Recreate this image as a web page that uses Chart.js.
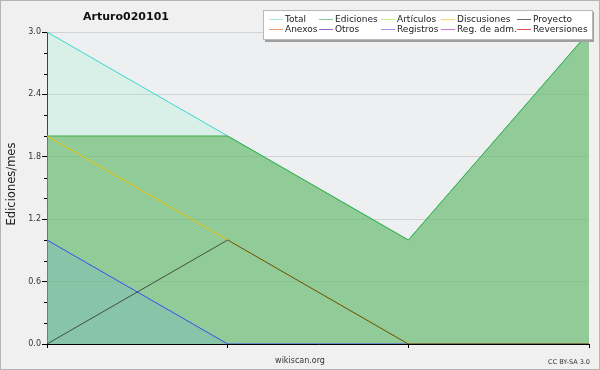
<!DOCTYPE html>
<html>
<head>
<meta charset="utf-8">
<script src="https://cdn.jsdelivr.net/npm/chart.js@4.4.1/dist/chart.umd.min.js"></script>
<style>
  html, body { margin: 0; padding: 0; background: #f0f0f0; }
  canvas { display: block; }
</style>
</head>
<body>
<canvas id="chart" width="600" height="370"></canvas>
<script>
// Data
const months = ['1', '2', '3', '4'];
const total = [3, 2, 1, 3];
const ediciones = [2, 2, 1, 3];
const discusiones = [2, 1, 0, 0];
const proyecto = [0, 1, 0, 0];
const registros = [1, 0, 0, 0];

const chartTitle = 'Arturo020101';
const yTitle = 'Ediciones/mes';
const legendRow1 = ['Total', 'Ediciones', 'Artículos', 'Discusiones', 'Proyecto'];
const legendRow2 = ['Anexos', 'Otros', 'Registros', 'Reg. de adm.', 'Reversiones'];
const legendColors1 = ['#a6e6de', '#86c892', '#c6ee86', '#f4d672', '#6a6a6a'];
const legendColors2 = ['#ee9868', '#9466cc', '#9494ee', '#cc76dc', '#e05454'];

const FONT = "'DejaVu Sans', sans-serif";

// Background, frame, legend and texts
const decor = {
    id: 'decor',
    beforeDraw(chart) {
        const c = chart.ctx;
        const a = chart.chartArea;
        c.save();
        c.fillStyle = '#f0f0f0';
        c.fillRect(0, 0, chart.width, chart.height);
        c.strokeStyle = '#b4b4b4';
        c.lineWidth = 1;
        c.strokeRect(0.5, 0.5, chart.width - 1, chart.height - 1);
        c.fillStyle = '#eeeff1';
        c.fillRect(a.left, a.top, a.right - a.left, a.bottom - a.top);
        c.restore();
    },
    afterDraw(chart) {
        const c = chart.ctx;
        const a = chart.chartArea;
        const y = chart.scales.y;
        c.save();

        // minor ticks on y axis
        c.strokeStyle = '#000';
        c.lineWidth = 1;
        for (let v = 0.2; v < 3; v += 0.2) {
            if (Math.abs(v / 0.6 - Math.round(v / 0.6)) < 0.01) continue;
            const py = Math.round(y.getPixelForValue(v)) + 0.5;
            c.beginPath();
            c.moveTo(a.left - 3, py);
            c.lineTo(a.left, py);
            c.stroke();
        }

        // title
        c.fillStyle = '#111';
        c.font = 'bold 11px ' + FONT;
        c.textAlign = 'center';
        c.textBaseline = 'middle';
        c.fillText(chartTitle, 126, 17);

        // y axis title
        c.save();
        c.translate(12, (a.top + a.bottom) / 2 - 4);
        c.rotate(-Math.PI / 2);
        c.font = '11.5px ' + FONT;
        c.fillStyle = '#222';
        c.fillText(yTitle, 0, 0);
        c.restore();

        // footer
        c.font = '8px ' + FONT;
        c.fillStyle = '#333';
        c.fillText('wikiscan.org', 300, 361);
        c.font = '6.5px ' + FONT;
        c.textAlign = 'right';
        c.fillText('CC BY-SA 3.0', 590, 362);

        // legend box
        c.fillStyle = '#a0a0a0';
        c.fillRect(265, 12, 329, 30);
        c.fillStyle = '#ffffff';
        c.fillRect(264, 11, 329, 29);
        c.strokeStyle = '#b8b8b8';
        c.strokeRect(263.5, 10.5, 329, 29);

        const colX = [285, 335, 397, 457, 533];
        c.font = '9px ' + FONT;
        c.textAlign = 'left';
        c.fillStyle = '#222';
        [[legendRow1, legendColors1, 19], [legendRow2, legendColors2, 29]].forEach(([names, cols, ry]) => {
            names.forEach((n, i) => {
                c.strokeStyle = cols[i];
                c.beginPath();
                c.moveTo(colX[i] - 16, ry + 0.5);
                c.lineTo(colX[i] - 2, ry + 0.5);
                c.stroke();
                c.fillText(n, colX[i], ry + 1);
            });
        });
        c.restore();
    }
};

function line(label, data, color, fill, order) {
    return {
        label: label,
        data: data,
        borderColor: color,
        backgroundColor: fill || 'transparent',
        borderWidth: 1,
        pointRadius: 0,
        tension: 0,
        fill: fill ? 'origin' : false,
        order: order
    };
}

new Chart(document.getElementById('chart'), {
    type: 'line',
    data: {
        labels: months,
        datasets: [
            line('Total', total, '#38d8cc', 'rgba(165,242,211,0.3)', 5),
            line('Ediciones', ediciones, '#3cb044', 'rgba(96,178,99,0.6)', 4),
            line('Registros', registros, '#3c4cf0', 'rgba(104,168,232,0.2)', 3),
            line('Discusiones', discusiones, '#f0c400', null, 2),
            line('Proyecto', proyecto, 'rgba(40,40,40,0.75)', null, 1)
        ]
    },
    options: {
        responsive: false,
        animation: false,
        layout: { padding: { top: 32, right: 11, left: 0, bottom: 0 } },
        plugins: {
            legend: { display: false },
            tooltip: { enabled: false }
        },
        scales: {
            x: {
                offset: false,
                grid: { drawOnChartArea: false, tickColor: '#000', tickLength: 4 },
                border: { color: '#000' },
                ticks: { callback: () => '' },
                afterFit(s) { s.height = 26; }
            },
            y: {
                min: 0,
                max: 3,
                ticks: {
                    stepSize: 0.6,
                    padding: 1,
                    color: '#333',
                    font: { family: FONT, size: 8 },
                    callback: v => Number(v).toFixed(1)
                },
                grid: { color: '#d2d2d2', tickColor: '#000', tickLength: 5 },
                border: { color: '#000' },
                afterFit(s) { s.width = 47; }
            }
        }
    },
    plugins: [decor]
});
</script>
</body>
</html>
